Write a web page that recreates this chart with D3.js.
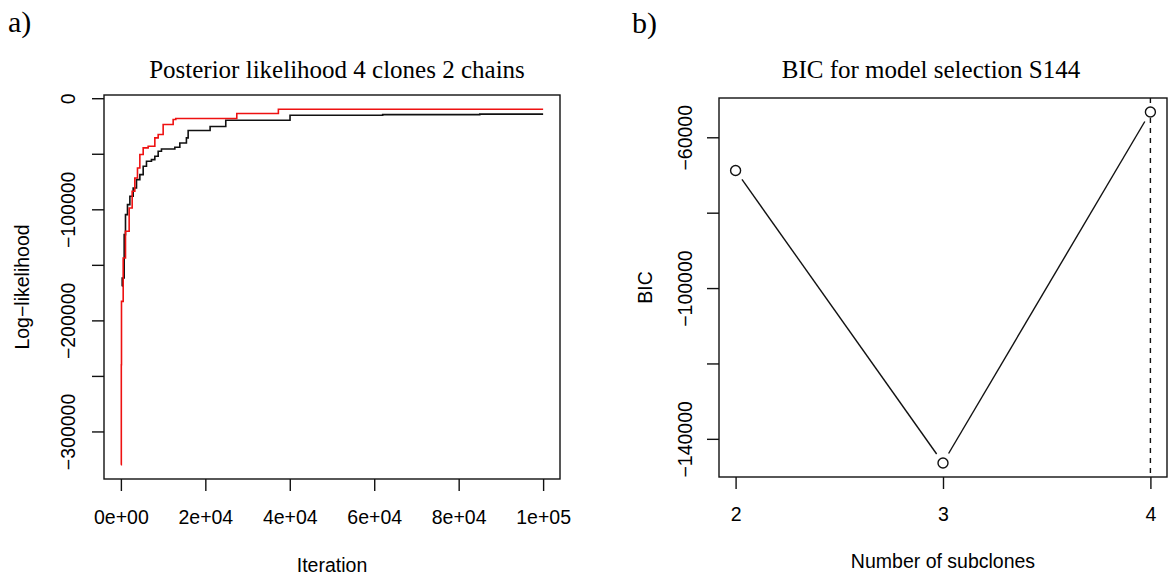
<!DOCTYPE html>
<html>
<head>
<meta charset="utf-8">
<script src="https://cdn.jsdelivr.net/npm/d3@7"></script>
<style>
	body { margin: 0; background: #fff; }
	text { fill: #000; }
	.sans { font-family: "Liberation Sans", Arial, sans-serif; font-size: 19.5px; }
	.serif { font-family: "Liberation Serif", "Times New Roman", serif; }
</style>
</head>
<body>
<div id="chart"></div>
<script>
// trace of chain 1 (black) and chain 2 (red): [iteration, log-likelihood]
var chainBlack = [
	[200, -169000], [310, -161900], [780, -122800], [1090, -104800], [1560, -95800],
	[2130, -88300], [2910, -80800], [3700, -73300], [4490, -68800], [5280, -61300],
	[6060, -56800], [7240, -55300], [8040, -52300], [8830, -47800], [9610, -45700],
	[12780, -44100], [13960, -40300], [15520, -35700], [15930, -29100], [21130, -25500],
	[24840, -19800], [40060, -15300], [62000, -14800], [85000, -14300], [100000, -14300]
];
var chainRed = [
	[0, -330000], [100, -240000], [142, -182900], [544, -143900], [1090, -119800],
	[1960, -98800], [2670, -83800], [3300, -71800], [3930, -62800], [4490, -50700],
	[5280, -44700], [6460, -43200], [8040, -35700], [8830, -32700], [10010, -23700],
	[12380, -19200], [13000, -18300], [27450, -13800], [37300, -9900], [100000, -9900]
];
var iterTicks = [0, 20000, 40000, 60000, 80000, 100000];
var iterTickLabels = ["0e+00", "2e+04", "4e+04", "6e+04", "8e+04", "1e+05"];
var llTicks = [-300000, -250000, -200000, -150000, -100000, -50000, 0];
var llTickLabels = ["−300000", "", "−200000", "", "−100000", "", "0"];

// BIC per number of subclones
var subclones = [2, 3, 4];
var bicValues = [-68800, -146400, -53300];
var bicTicks = [-140000, -120000, -100000, -80000, -60000];
var bicTickLabels = ["−140000", "", "−100000", "", "−60000"];
var chosenClones = 4;

var width = 1168;
var height = 577;

var svg = d3.select("#chart")
	.append("svg")
	.attr("width", width)
	.attr("height", height);

svg.append("rect").attr("width", width).attr("height", height).attr("fill", "#fff");

// R style axis range: data range plus 4% on each side
function rRange (values) {
	var ext = d3.extent(values);
	var pad = (ext[1] - ext[0]) * 0.04;
	return [ext[0] - pad, ext[1] + pad];
}

function drawFrame (g, box, title, xlab, ylab, ylabX) {
	g.append("rect")
		.attr("x", box.left)
		.attr("y", box.top)
		.attr("width", box.right - box.left)
		.attr("height", box.bottom - box.top)
		.attr("fill", "none")
		.attr("stroke", "#111")
		.attr("stroke-width", 1.4);

	g.append("text")
		.attr("class", "serif")
		.attr("x", (box.left + box.right) / 2 + box.titleShift)
		.attr("y", 78)
		.attr("text-anchor", "middle")
		.style("font-size", "25px")
		.text(title);

	g.append("text")
		.attr("class", "sans")
		.attr("x", (box.left + box.right) / 2)
		.attr("y", box.xlabY)
		.attr("text-anchor", "middle")
		.text(xlab);

	g.append("text")
		.attr("class", "sans")
		.attr("transform", "translate(" + ylabX + "," + ((box.top + box.bottom) / 2) + ") rotate(-90)")
		.attr("text-anchor", "middle")
		.text(ylab);
}

function drawXAxis (g, x, box, ticks, labels, labelY) {
	var axis = d3.axisBottom(x)
		.tickValues(ticks)
		.tickSize(12)
		.tickFormat(function (d, i) { return labels[i]; });

	var a = g.append("g")
		.attr("transform", "translate(0," + box.bottom + ")")
		.call(axis);
	a.select(".domain").remove();
	a.selectAll("line").attr("stroke", "#111").attr("stroke-width", 1.4);
	a.selectAll("text")
		.attr("class", "sans")
		.attr("dy", null)
		.attr("y", labelY - box.bottom)
		.style("font-size", "19.5px")
		.attr("fill", "#000");
}

function drawYAxis (g, y, box, ticks, labels, labelX) {
	var axis = d3.axisLeft(y)
		.tickValues(ticks)
		.tickSize(12)
		.tickFormat(function (d, i) { return labels[i]; });

	var a = g.append("g")
		.attr("transform", "translate(" + box.left + ",0)")
		.call(axis);
	a.select(".domain").remove();
	a.selectAll("line").attr("stroke", "#111").attr("stroke-width", 1.4);
	a.selectAll("text")
		.attr("class", "sans")
		.attr("x", null)
		.attr("dy", null)
		.attr("text-anchor", "middle")
		.style("font-size", "19.5px")
		.attr("fill", "#000")
		.attr("transform", "translate(" + (labelX - box.left) + ",0) rotate(-90)");
}

// ---------- panel a ----------
function panelA () {
	var box = { left: 104, right: 560, top: 95, bottom: 479, xlabY: 572, titleShift: 5 };
	var g = svg.append("g");

	var x = d3.scaleLinear()
		.domain(rRange([0, 100000]))
		.range([box.left, box.right]);

	var allValues = chainBlack.concat(chainRed).map(function (d) { return d[1]; });
	var y = d3.scaleLinear()
		.domain(rRange(allValues))
		.range([box.bottom, box.top]);

	var line = d3.line()
		.x(function (d) { return x(d[0]); })
		.y(function (d) { return y(d[1]); })
		.curve(d3.curveStepAfter);

	g.append("path")
		.attr("d", line(chainBlack))
		.attr("fill", "none")
		.attr("stroke", "#111")
		.attr("stroke-width", 1.6);

	g.append("path")
		.attr("d", line(chainRed))
		.attr("fill", "none")
		.attr("stroke", "#ee1111")
		.attr("stroke-width", 1.6);

	drawFrame(g, box, "Posterior likelihood 4 clones 2 chains", "Iteration", "Log−likelihood", 29);
	drawXAxis(g, x, box, iterTicks, iterTickLabels, 524);
	drawYAxis(g, y, box, llTicks, llTickLabels, 75);

	g.append("text")
		.attr("class", "serif")
		.attr("x", 8)
		.attr("y", 32)
		.style("font-size", "30px")
		.text("a)");
}

// ---------- panel b ----------
function panelB () {
	var box = { left: 719, right: 1167, top: 98, bottom: 477, xlabY: 568, titleShift: -12 };
	var g = svg.append("g");

	var x = d3.scaleLinear()
		.domain(rRange(subclones))
		.range([box.left, box.right]);

	var y = d3.scaleLinear()
		.domain(rRange(bicValues))
		.range([box.bottom, box.top]);

	var pts = subclones.map(function (c, i) { return [x(c), y(bicValues[i])]; });

	// type = "b": segments stop short of the points
	var gap = 11;
	var segs = d3.pairs(pts).map(function (p) {
		var dx = p[1][0] - p[0][0];
		var dy = p[1][1] - p[0][1];
		var len = Math.sqrt(dx * dx + dy * dy);
		var ux = dx / len;
		var uy = dy / len;
		return [p[0][0] + ux * gap, p[0][1] + uy * gap, p[1][0] - ux * gap, p[1][1] - uy * gap];
	});

	g.selectAll(".seg")
		.data(segs)
		.enter()
		.append("line")
		.classed("seg", true)
		.attr("x1", function (d) { return d[0]; })
		.attr("y1", function (d) { return d[1]; })
		.attr("x2", function (d) { return d[2]; })
		.attr("y2", function (d) { return d[3]; })
		.attr("stroke", "#111")
		.attr("stroke-width", 1.4);

	g.append("line")
		.attr("x1", x(chosenClones))
		.attr("x2", x(chosenClones))
		.attr("y1", box.top)
		.attr("y2", box.bottom)
		.attr("stroke", "#111")
		.attr("stroke-width", 1.4)
		.attr("stroke-dasharray", "5,5");

	g.selectAll(".pt")
		.data(pts)
		.enter()
		.append("circle")
		.classed("pt", true)
		.attr("cx", function (d) { return d[0]; })
		.attr("cy", function (d) { return d[1]; })
		.attr("r", 5)
		.attr("fill", "#fff")
		.attr("stroke", "#111")
		.attr("stroke-width", 1.4);

	drawFrame(g, box, "BIC for model selection S144", "Number of subclones", "BIC", 652);
	drawXAxis(g, x, box, subclones, subclones.map(String), 521);
	drawYAxis(g, y, box, bicTicks, bicTickLabels, 692);

	g.append("text")
		.attr("class", "serif")
		.attr("x", 632)
		.attr("y", 33)
		.style("font-size", "30px")
		.text("b)");
}

panelA();
panelB();
</script>
</body>
</html>
